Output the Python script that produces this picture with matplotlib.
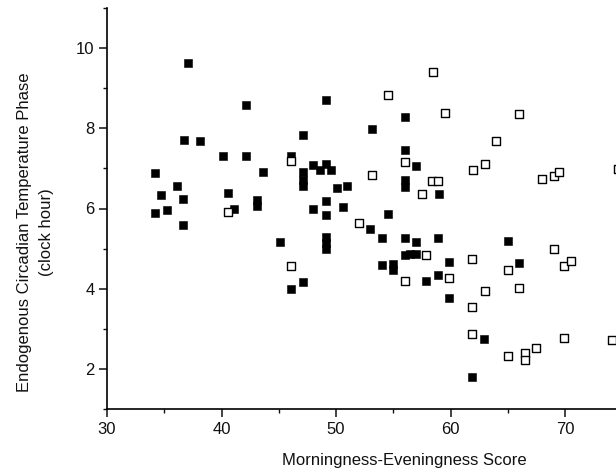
"""
plot.py - circadian temperature phase vs morningness-eveningness score

Scatter of endogenous temperature phase (clock hour) against MEQ score,
two groups drawn as filled and open squares. Saves out.png.
"""

import matplotlib
matplotlib.use("Agg")
import matplotlib.pyplot as plt

plt.rcParams.update({
    "font.family": ["Liberation Sans", "DejaVu Sans"],
    "figure.dpi": 100,
    "figure.facecolor": "white",
    "axes.spines.top": False,
    "axes.spines.right": False,
    "text.color": "#111111",
    "axes.labelcolor": "#111111",
    "xtick.color": "#111111",
    "ytick.color": "#111111",
})

# Filled squares
filled_x = [37.1, 42.1, 36.7, 38.1, 40.1, 42.1, 34.2, 43.6, 36.1, 34.7,
            36.6, 40.6, 43.1, 43.1, 35.2, 34.2, 41.1, 36.6, 45.1, 49.1,
            56.0, 53.1, 47.1, 56.0, 57.0, 48.0, 48.6, 49.1, 49.6, 47.1,
            47.1, 47.1, 50.1, 51.0, 56.0, 56.0, 59.0, 49.1, 48.0, 50.6,
            49.1, 54.5, 53.0, 49.1, 49.1, 49.1, 54.0, 56.0, 57.0, 58.9,
            54.0, 55.0, 55.0, 56.0, 56.5, 57.0, 57.9, 58.9, 59.9, 59.9,
            46.1, 47.1, 65.0, 66.0, 62.9, 61.9, 46.1]
filled_y = [9.63, 8.57, 7.72, 7.68, 7.32, 7.32, 6.88, 6.91, 6.57, 6.33,
            6.23, 6.38, 6.20, 6.06, 5.97, 5.90, 5.98, 5.60, 5.17, 8.71,
            8.27, 7.98, 7.83, 7.47, 7.07, 7.08, 6.97, 7.12, 6.97, 6.90,
            6.72, 6.56, 6.50, 6.55, 6.70, 6.53, 6.35, 6.18, 5.99, 6.03,
            5.83, 5.86, 5.48, 5.30, 5.15, 5.00, 5.27, 5.26, 5.16, 5.26,
            4.58, 4.62, 4.47, 4.84, 4.87, 4.87, 4.18, 4.35, 4.66, 3.77,
            3.99, 4.17, 5.20, 4.64, 2.74, 1.80, 7.30]

# Open squares
open_x = [40.6, 58.5, 54.5, 59.5, 46.1, 53.1, 56.0, 58.4, 58.9, 57.5,
          52.0, 57.9, 56.0, 59.9, 46.1, 61.9, 63.0, 61.9, 61.9, 65.0,
          66.0, 69.0, 69.9, 70.5, 69.9, 74.1, 65.0, 66.5, 66.5, 67.5,
          66.0, 64.0, 62.0, 63.0, 68.0, 69.0, 69.5, 74.6]
open_y = [5.92, 9.41, 8.84, 8.37, 7.18, 6.83, 7.17, 6.69, 6.69, 6.35,
          5.65, 4.85, 4.20, 4.26, 4.56, 4.75, 3.94, 3.55, 2.87, 4.47,
          4.02, 4.98, 4.56, 4.70, 2.76, 2.73, 2.33, 2.39, 2.22, 2.53,
          8.35, 7.68, 6.97, 7.12, 6.73, 6.80, 6.90, 6.99]

x_major = [30, 40, 50, 60, 70]
x_minor = [35, 45, 55, 65]
y_major = [2, 4, 6, 8, 10]
y_minor = [1, 3, 5, 7, 9, 11]


def plot_phase_vs_meq(out_path: str = "out.png") -> None:
    """Draw the scatter and save it."""
    fig = plt.figure(figsize=(6.16, 4.71))
    ax = fig.add_axes([107 / 616, 62 / 471, 509 / 616, 401 / 471])

    ax.scatter(filled_x, filled_y, marker="s", s=30, color="black",
               linewidths=0.4, zorder=3)
    ax.scatter(open_x, open_y, marker="s", s=30, facecolor="white",
               edgecolor="black", linewidths=1.0, zorder=4)

    ax.set_xlim(30, 74.45)
    ax.set_ylim(1, 11)
    ax.set_xticks(x_major)
    ax.set_xticks(x_minor, minor=True)
    ax.set_yticks(y_major)
    ax.set_yticks(y_minor, minor=True)

    for side in ("left", "bottom"):
        ax.spines[side].set_linewidth(1.2)
    ax.tick_params(which="major", length=5.5, width=1.1, pad=3.5, labelsize=12)
    ax.tick_params(which="minor", length=3, width=1.0)

    # label sits low, right of the axis centre as in the source figure
    ax.set_xlabel("Morningness-Eveningness Score", fontsize=12)
    ax.xaxis.set_label_coords(0.585, (409 - 465) / 401)
    ax.xaxis.label.set_verticalalignment("baseline")

    fig.text(35.5 / 616, 1 - 232 / 471,
             "Endogenous Circadian Temperature Phase\n(clock hour)",
             rotation=90, ha="center", va="center", fontsize=12,
             multialignment="center", linespacing=1.55)

    fig.savefig(out_path)
    plt.close(fig)


if __name__ == "__main__":
    plot_phase_vs_meq()
